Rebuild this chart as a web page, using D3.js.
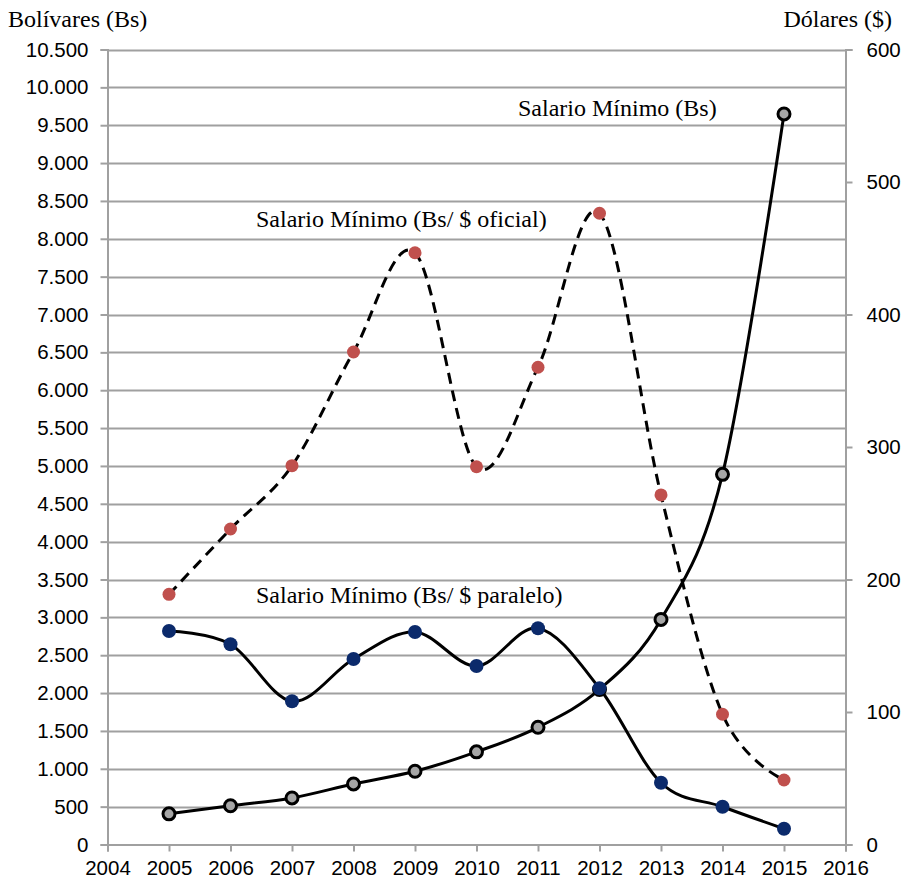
<!DOCTYPE html>
<html>
<head>
<meta charset="utf-8">
<script src="https://cdn.jsdelivr.net/npm/d3@7"></script>
<style>
  html, body { margin: 0; padding: 0; background: #fff; }
  svg { display: block; }
</style>
</head>
<body>
<svg id="chart" width="904" height="884"></svg>
<script>
// ---- Data ----
const years = [2005, 2006, 2007, 2008, 2009, 2010, 2011, 2012, 2013, 2014, 2015];
const salarioBs = [405, 512, 615, 800, 967, 1224, 1548, 2048, 2973, 4889, 9649];
const salarioOficial = [188.8, 238.1, 285.9, 371.7, 446.6, 285.1, 360.2, 476.4, 263.8, 98.3, 48.7];
const salarioParalelo = [161.1, 151.1, 108.1, 140.0, 160.4, 134.7, 163.2, 117.9, 46.6, 28.5, 11.9];
const xTicks = [2004, 2005, 2006, 2007, 2008, 2009, 2010, 2011, 2012, 2013, 2014, 2015, 2016];
const leftTicks = d3.range(0, 10501, 500);
const rightTicks = [0, 100, 200, 300, 400, 500, 600];
const leftTitle = "Bolívares (Bs)";
const rightTitle = "Dólares ($)";
const labelBs = "Salario Mínimo (Bs)";
const labelOficial = "Salario Mínimo (Bs/ $ oficial)";
const labelParalelo = "Salario Mínimo (Bs/ $ paralelo)";

// ---- Layout ----
const L = 107.5, R = 845.5, T = 49.5, B = 844.5;
const svg = d3.select("#chart");
const x = d3.scaleLinear().domain([2004, 2016]).range([L, R]);
const yL = d3.scaleLinear().domain([0, 10500]).range([B, T]);
const yR = d3.scaleLinear().domain([0, 600]).range([B, T]);
const fmt = d3.formatLocale({decimal: ",", thousands: ".", grouping: [3], currency: ["", ""]}).format(",d");

const sans = "'Liberation Sans', Arial, sans-serif";
const serif = "'Liberation Serif', 'Times New Roman', serif";
const serifSize = 24;
const gridColor = "#a0a0a0";

// gridlines
svg.append("g").selectAll("line").data(leftTicks.slice(1)).join("line")
  .attr("x1", L).attr("x2", R)
  .attr("y1", d => Math.round(yL(d)) + 0.5).attr("y2", d => Math.round(yL(d)) + 0.5)
  .attr("stroke", gridColor).attr("stroke-width", 2);

// left axis
const gL = svg.append("g").attr("transform", `translate(${L},0)`)
  .call(d3.axisLeft(yL).tickValues(leftTicks).tickFormat(fmt).tickSize(7).tickPadding(12));
// right axis
const gR = svg.append("g").attr("transform", `translate(${R},0)`)
  .call(d3.axisRight(yR).tickValues(rightTicks).tickSize(7).tickPadding(14));
// bottom axis
const gB = svg.append("g").attr("transform", `translate(0,${B})`)
  .call(d3.axisBottom(x).tickValues(xTicks).tickFormat(d3.format("d")).tickSize(7).tickPadding(9));

[gL, gR, gB].forEach(g => {
  g.select(".domain").attr("stroke", gridColor).attr("stroke-width", 2);
  g.selectAll(".tick line").attr("stroke", gridColor).attr("stroke-width", 2);
  g.selectAll(".tick text").attr("fill", "#000").attr("font-family", sans).attr("font-size", 20.5);
});
gR.selectAll(".tick text").attr("text-anchor", "start");

// titles
svg.append("text").attr("x", 8).attr("y", 27).attr("font-family", serif).attr("font-size", serifSize).text(leftTitle);
svg.append("text").attr("x", 892).attr("y", 27).attr("text-anchor", "end").attr("font-family", serif).attr("font-size", serifSize).text(rightTitle);

// lines
const curve = d3.curveCardinal.tension(0);
const lineBs = d3.line().x((d, i) => x(years[i])).y(d => yL(d)).curve(curve);
const lineR = d3.line().x((d, i) => x(years[i])).y(d => yR(d)).curve(curve);

// Bs series
svg.append("path").attr("d", lineBs(salarioBs)).attr("fill", "none").attr("stroke", "#000").attr("stroke-width", 3);
svg.append("g").selectAll("circle").data(salarioBs).join("circle")
  .attr("cx", (d, i) => x(years[i])).attr("cy", d => yL(d)).attr("r", 6)
  .attr("fill", "#a6a6a6").attr("stroke", "#000").attr("stroke-width", 3);

// oficial series
svg.append("path").attr("d", lineR(salarioOficial)).attr("fill", "none").attr("stroke", "#000")
  .attr("stroke-width", 3).attr("stroke-dasharray", "11,7");
svg.append("g").selectAll("circle").data(salarioOficial).join("circle")
  .attr("cx", (d, i) => x(years[i])).attr("cy", d => yR(d)).attr("r", 6.5)
  .attr("fill", "#c0504d");

// paralelo series
svg.append("path").attr("d", lineR(salarioParalelo)).attr("fill", "none").attr("stroke", "#000").attr("stroke-width", 3);
svg.append("g").selectAll("circle").data(salarioParalelo).join("circle")
  .attr("cx", (d, i) => x(years[i])).attr("cy", d => yR(d)).attr("r", 7)
  .attr("fill", "#0b2a6b");

// annotations
svg.append("text").attr("x", 518).attr("y", 116).attr("font-family", serif).attr("font-size", serifSize).text(labelBs);
svg.append("text").attr("x", 256).attr("y", 227).attr("font-family", serif).attr("font-size", serifSize).text(labelOficial);
svg.append("text").attr("x", 256).attr("y", 603).attr("font-family", serif).attr("font-size", serifSize).text(labelParalelo);
</script>
</body>
</html>
